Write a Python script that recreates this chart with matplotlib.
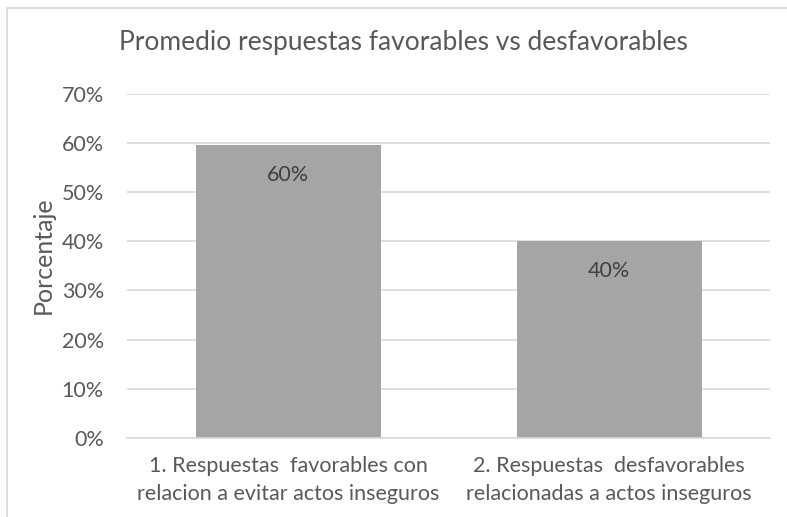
import matplotlib
matplotlib.use('Agg')
import matplotlib.pyplot as plt
from matplotlib.patches import Rectangle
from matplotlib.ticker import PercentFormatter, MultipleLocator

categories = ['1. Respuestas  favorables con\nrelacion a evitar actos inseguros',
              '2. Respuestas  desfavorables\nrelacionadas a actos inseguros']
valores = [0.595, 0.40]
titulo = 'Promedio respuestas favorables vs desfavorables'
eje_y = 'Porcentaje'

plt.rcParams['font.family'] = ['Lato', 'DejaVu Sans']
gris_texto = '#595959'
gris_barra = '#A5A5A5'
gris_linea = '#D9D9D9'

fig = plt.figure(figsize = (7.87, 5.17), dpi = 100)
ax = fig.add_axes([0.162, 0.153, 0.816, 0.666])

x = range(len(categories))
barras = ax.bar(x, valores, width = 0.576, color = gris_barra, zorder = 2)
for b, v in zip(barras, valores):
 ax.annotate('{:.0%}'.format(v), (b.get_x() + b.get_width() / 2, v), xytext = (0, -14),
             textcoords = 'offset points', ha = 'center', va = 'top', fontsize = 15.5, color = '#404040')

ax.set_xlim(-0.5, 1.5)
ax.set_ylim(0, 0.70)
ax.yaxis.set_major_locator(MultipleLocator(0.10))
ax.yaxis.set_major_formatter(PercentFormatter(1.0, decimals = 0))
ax.grid(axis = 'y', color = gris_linea, linewidth = 1.2, zorder = 0)
ax.set_axisbelow(True)
for s in ['top', 'right', 'left']:
 ax.spines[s].set_visible(False)
ax.spines['bottom'].set_color(gris_linea)
ax.spines['bottom'].set_linewidth(1.2)
ax.tick_params(axis = 'y', length = 0, pad = 17, labelsize = 15.5, labelcolor = gris_texto)
ax.tick_params(axis = 'x', length = 0, pad = 13, labelsize = 15.5, labelcolor = gris_texto)
ax.set_xticks(list(x))
ax.set_xticklabels(categories, linespacing = 1.5)
ax.set_ylabel(eje_y, fontsize = 18, color = gris_texto)
ax.yaxis.set_label_coords(-0.113, 0.53)

fig.text(0.513, 0.918, titulo, ha = 'center', va = 'center', fontsize = 19, color = gris_texto)

# chart frame
fig.patches.append(Rectangle((7 / 787, -0.1), 1.2, 1.1 - 8 / 517, transform = fig.transFigure,
                             fill = False, edgecolor = gris_linea, linewidth = 1.2))

fig.savefig('out.png', dpi = 100)
